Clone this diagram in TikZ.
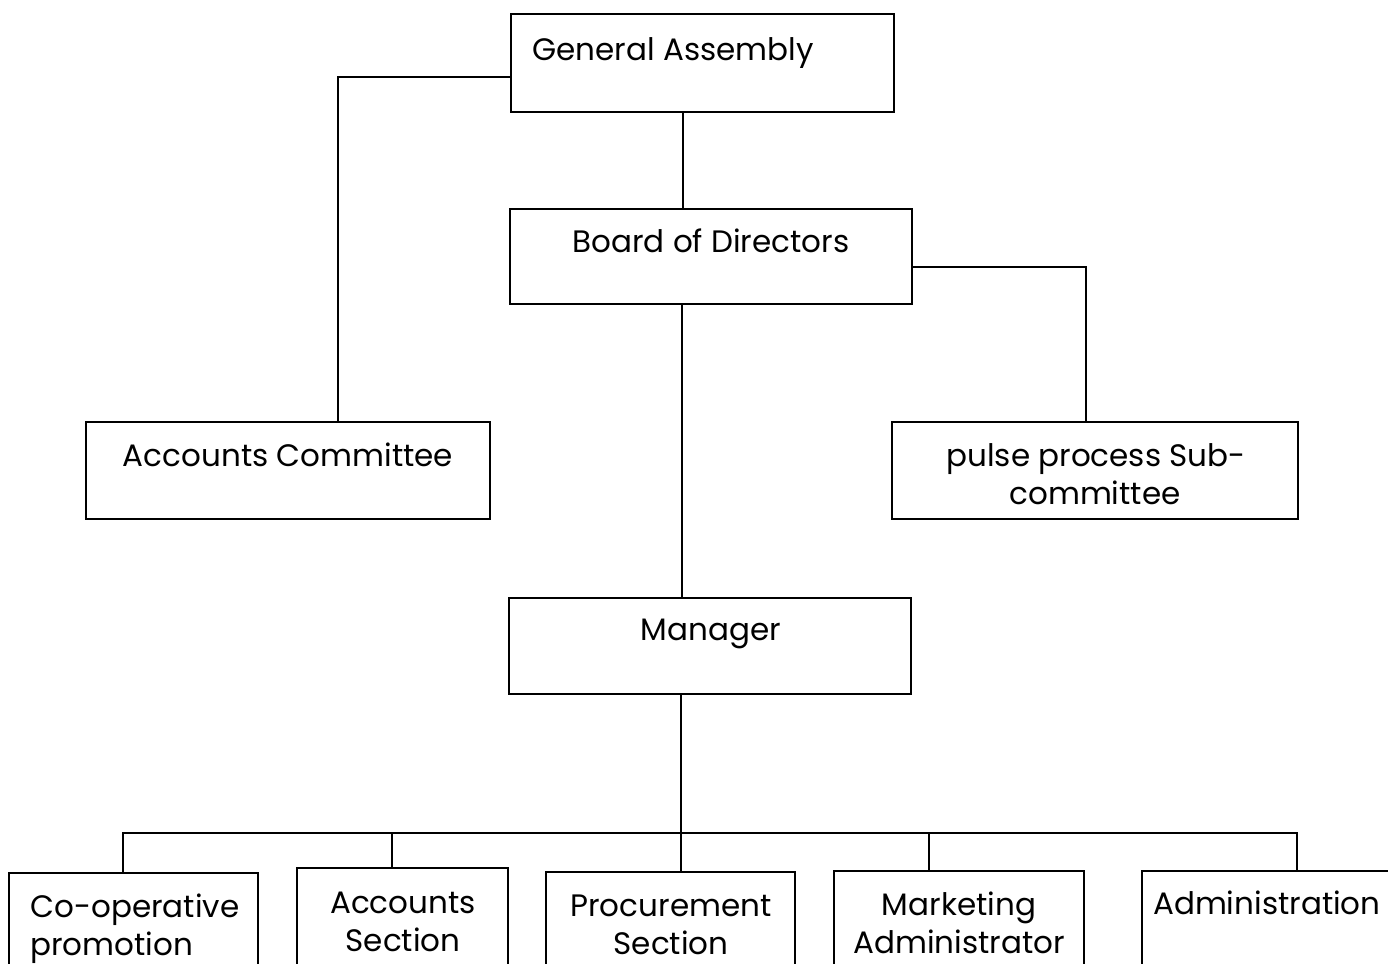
\documentclass[tikz,border=0pt]{standalone}
\usepackage{fontspec}
\setmainfont{Poppins}
\usetikzlibrary{calc}
\tikzset{
  box/.style={draw, line width=0.8pt, rectangle, inner sep=0pt, outer sep=0pt},
  lbl/.style={font=\fontsize{15.5}{19}\selectfont, inner sep=0pt},
  conn/.style={line width=0.8pt}
}
\begin{document}
\begin{tikzpicture}[x=0.5pt, y=-0.5pt]
\useasboundingbox (0,0) rectangle (1388,964);
% boxes
\node[box, minimum width=191.5pt, minimum height=49pt] (ga) at (702.5,63) {};
\node[box, minimum width=201pt, minimum height=47.5pt] (bd) at (711,256.5) {};
\node[box, minimum width=202pt, minimum height=48.5pt] (ac) at (288,470.5) {};
\node[box, minimum width=203pt, minimum height=48.5pt] (pp) at (1095,470.5) {};
\node[box, minimum width=201pt, minimum height=48pt] (mg) at (710,646) {};
\node[box, minimum width=124.5pt, minimum height=68.5pt] (cp) at (133.5,941.5) {};
\node[box, minimum width=105.5pt, minimum height=71pt] (as) at (402.5,939) {};
\node[box, minimum width=124.5pt, minimum height=69pt] (ps) at (670.5,941) {};
\node[box, minimum width=125pt, minimum height=69.5pt] (ma) at (959,940.5) {};
\node[box, minimum width=139pt, minimum height=69.5pt] (ad) at (1281,940.5) {};
% texts
\node[lbl, anchor=base west] (gat) at (532,60) {General Assembly};
\node[lbl, anchor=base] (bdt) at (711,252) {Board of Directors};
\node[lbl, anchor=base] (act) at (288,466) {Accounts Committee};
\node[lbl, anchor=base] (ppt1) at (1096,466) {pulse process Sub-};
\node[lbl, anchor=base] (ppt2) at (1095,504) {committee};
\node[lbl, anchor=base] (mgt) at (711,640) {Manager};
\node[lbl, anchor=base west] (cpt1) at (30,917) {Co-operative};
\node[lbl, anchor=base west] (cpt2) at (30,955) {promotion};
\node[lbl, anchor=base] (ast1) at (403,913) {Accounts};
\node[lbl, anchor=base] (ast2) at (403,951) {Section};
\node[lbl, anchor=base] (pst1) at (671,916) {Procurement};
\node[lbl, anchor=base] (pst2) at (671,954) {Section};
\node[lbl, anchor=base] (mat1) at (959,915) {Marketing};
\node[lbl, anchor=base] (mat2) at (959,953) {Administrator};
\node[lbl, anchor=base east] (adt) at (1381,914) {Administration};
% connectors
\draw[conn] ([yshift=-7pt]ga.west) -| ([xshift=25pt]ac.north);
\draw[conn] ([xshift=-9.75pt]ga.south) -- ([xshift=-9.75pt]ga.south |- bd.north);
\draw[conn] ([yshift=-5.25pt]bd.east) -| ([xshift=-4.5pt]pp.north);
\draw[conn] ([xshift=-14.5pt]bd.south) -- ([xshift=-14.5pt]bd.south |- mg.north);
\draw[conn] ([xshift=-14.5pt]mg.south) -- ([xshift=-14.5pt]mg.south |- ps.north);
\coordinate (busL) at (123,833);
\coordinate (busR) at (1297,833);
\draw[conn] ([xshift=-5.25pt]cp.north) -- (busL) -- (busR) -- ([xshift=8pt]ad.north);
\draw[conn] ([xshift=-5.25pt]as.north) -- ([xshift=-5.25pt]as.north |- busL);
\draw[conn] ([xshift=-15pt]ma.north) -- ([xshift=-15pt]ma.north |- busL);
\end{tikzpicture}
\end{document}
